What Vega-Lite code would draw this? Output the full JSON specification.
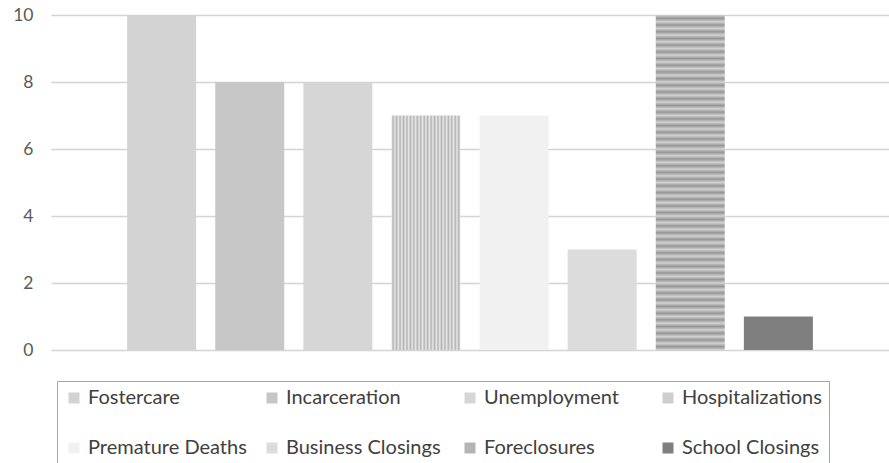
{
  "$schema": "https://vega.github.io/schema/vega-lite/v6.json",
  "autosize": {"type": "none"},
  "padding": {"left": 51, "top": 15, "right": 0, "bottom": 113},
  "width": 838,
  "height": 335,
  "background": "white",
  "config": {"view": {"stroke": null}},
  "data": {"values": [
    {"category": "Fostercare", "value": 10},
    {"category": "Incarceration", "value": 8},
    {"category": "Unemployment", "value": 8},
    {"category": "Hospitalizations", "value": 7},
    {"category": "Premature Deaths", "value": 7},
    {"category": "Business Closings", "value": 3},
    {"category": "Foreclosures", "value": 10},
    {"category": "School Closings", "value": 1}
  ]},
  "mark": {"type": "bar"},
  "encoding": {
    "x": {"field": "category", "type": "nominal", "sort": null, "axis": null,
      "scale": {"paddingInner": 0.2168, "paddingOuter": 0.864}},
    "y": {"field": "value", "type": "quantitative",
      "scale": {"domain": [0, 10], "nice": false},
      "axis": {"title": null, "values": [0, 2, 4, 6, 8, 10], "domain": false, "ticks": false,
        "grid": true, "gridColor": "#d4d4d4", "gridWidth": 1.5,
        "labelFont": "Lato", "labelFontSize": 17.5, "labelColor": "#595959", "labelPadding": 18}},
    "fill": {"field": "category", "type": "nominal", "sort": null,
      "condition": [
        {"test": "datum.category === 'Hospitalizations'",
          "value": {"gradient": "linear", "x1": 0, "y1": 0, "x2": 1, "y2": 0, "stops": [
            {"offset": 0, "color": "#e9e9e9"}, {"offset": 0.025, "color": "#b3b3b3"},
            {"offset": 0.05, "color": "#e9e9e9"}, {"offset": 0.075, "color": "#b3b3b3"},
            {"offset": 0.1, "color": "#e9e9e9"}, {"offset": 0.125, "color": "#b3b3b3"},
            {"offset": 0.15, "color": "#e9e9e9"}, {"offset": 0.175, "color": "#b3b3b3"},
            {"offset": 0.2, "color": "#e9e9e9"}, {"offset": 0.225, "color": "#b3b3b3"},
            {"offset": 0.25, "color": "#e9e9e9"}, {"offset": 0.275, "color": "#b3b3b3"},
            {"offset": 0.3, "color": "#e9e9e9"}, {"offset": 0.325, "color": "#b3b3b3"},
            {"offset": 0.35, "color": "#e9e9e9"}, {"offset": 0.375, "color": "#b3b3b3"},
            {"offset": 0.4, "color": "#e9e9e9"}, {"offset": 0.425, "color": "#b3b3b3"},
            {"offset": 0.45, "color": "#e9e9e9"}, {"offset": 0.475, "color": "#b3b3b3"},
            {"offset": 0.5, "color": "#e9e9e9"}, {"offset": 0.525, "color": "#b3b3b3"},
            {"offset": 0.55, "color": "#e9e9e9"}, {"offset": 0.575, "color": "#b3b3b3"},
            {"offset": 0.6, "color": "#e9e9e9"}, {"offset": 0.625, "color": "#b3b3b3"},
            {"offset": 0.65, "color": "#e9e9e9"}, {"offset": 0.675, "color": "#b3b3b3"},
            {"offset": 0.7, "color": "#e9e9e9"}, {"offset": 0.725, "color": "#b3b3b3"},
            {"offset": 0.75, "color": "#e9e9e9"}, {"offset": 0.775, "color": "#b3b3b3"},
            {"offset": 0.8, "color": "#e9e9e9"}, {"offset": 0.825, "color": "#b3b3b3"},
            {"offset": 0.85, "color": "#e9e9e9"}, {"offset": 0.875, "color": "#b3b3b3"},
            {"offset": 0.9, "color": "#e9e9e9"}, {"offset": 0.925, "color": "#b3b3b3"},
            {"offset": 0.95, "color": "#e9e9e9"}, {"offset": 0.975, "color": "#b3b3b3"},
            {"offset": 1, "color": "#e9e9e9"}
          ]}},
        {"test": "datum.category === 'Foreclosures'",
          "value": {"gradient": "linear", "x1": 0, "y1": 0, "x2": 0, "y2": 1, "stops": [
            {"offset": 0, "color": "#d2d2d2"}, {"offset": 0.01, "color": "#969696"}, {"offset": 0.02, "color": "#d2d2d2"}, {"offset": 0.03, "color": "#969696"}, {"offset": 0.04, "color": "#d2d2d2"},
            {"offset": 0.05, "color": "#969696"}, {"offset": 0.06, "color": "#d2d2d2"}, {"offset": 0.07, "color": "#969696"}, {"offset": 0.08, "color": "#d2d2d2"}, {"offset": 0.09, "color": "#969696"},
            {"offset": 0.1, "color": "#d2d2d2"}, {"offset": 0.11, "color": "#969696"}, {"offset": 0.12, "color": "#d2d2d2"}, {"offset": 0.13, "color": "#969696"}, {"offset": 0.14, "color": "#d2d2d2"},
            {"offset": 0.15, "color": "#969696"}, {"offset": 0.16, "color": "#d2d2d2"}, {"offset": 0.17, "color": "#969696"}, {"offset": 0.18, "color": "#d2d2d2"}, {"offset": 0.19, "color": "#969696"},
            {"offset": 0.2, "color": "#d2d2d2"}, {"offset": 0.21, "color": "#969696"}, {"offset": 0.22, "color": "#d2d2d2"}, {"offset": 0.23, "color": "#969696"}, {"offset": 0.24, "color": "#d2d2d2"},
            {"offset": 0.25, "color": "#969696"}, {"offset": 0.26, "color": "#d2d2d2"}, {"offset": 0.27, "color": "#969696"}, {"offset": 0.28, "color": "#d2d2d2"}, {"offset": 0.29, "color": "#969696"},
            {"offset": 0.3, "color": "#d2d2d2"}, {"offset": 0.31, "color": "#969696"}, {"offset": 0.32, "color": "#d2d2d2"}, {"offset": 0.33, "color": "#969696"}, {"offset": 0.34, "color": "#d2d2d2"},
            {"offset": 0.35, "color": "#969696"}, {"offset": 0.36, "color": "#d2d2d2"}, {"offset": 0.37, "color": "#969696"}, {"offset": 0.38, "color": "#d2d2d2"}, {"offset": 0.39, "color": "#969696"},
            {"offset": 0.4, "color": "#d2d2d2"}, {"offset": 0.41, "color": "#969696"}, {"offset": 0.42, "color": "#d2d2d2"}, {"offset": 0.43, "color": "#969696"}, {"offset": 0.44, "color": "#d2d2d2"},
            {"offset": 0.45, "color": "#969696"}, {"offset": 0.46, "color": "#d2d2d2"}, {"offset": 0.47, "color": "#969696"}, {"offset": 0.48, "color": "#d2d2d2"}, {"offset": 0.49, "color": "#969696"},
            {"offset": 0.5, "color": "#d2d2d2"}, {"offset": 0.51, "color": "#969696"}, {"offset": 0.52, "color": "#d2d2d2"}, {"offset": 0.53, "color": "#969696"}, {"offset": 0.54, "color": "#d2d2d2"},
            {"offset": 0.55, "color": "#969696"}, {"offset": 0.56, "color": "#d2d2d2"}, {"offset": 0.57, "color": "#969696"}, {"offset": 0.58, "color": "#d2d2d2"}, {"offset": 0.59, "color": "#969696"},
            {"offset": 0.6, "color": "#d2d2d2"}, {"offset": 0.61, "color": "#969696"}, {"offset": 0.62, "color": "#d2d2d2"}, {"offset": 0.63, "color": "#969696"}, {"offset": 0.64, "color": "#d2d2d2"},
            {"offset": 0.65, "color": "#969696"}, {"offset": 0.66, "color": "#d2d2d2"}, {"offset": 0.67, "color": "#969696"}, {"offset": 0.68, "color": "#d2d2d2"}, {"offset": 0.69, "color": "#969696"},
            {"offset": 0.7, "color": "#d2d2d2"}, {"offset": 0.71, "color": "#969696"}, {"offset": 0.72, "color": "#d2d2d2"}, {"offset": 0.73, "color": "#969696"}, {"offset": 0.74, "color": "#d2d2d2"},
            {"offset": 0.75, "color": "#969696"}, {"offset": 0.76, "color": "#d2d2d2"}, {"offset": 0.77, "color": "#969696"}, {"offset": 0.78, "color": "#d2d2d2"}, {"offset": 0.79, "color": "#969696"},
            {"offset": 0.8, "color": "#d2d2d2"}, {"offset": 0.81, "color": "#969696"}, {"offset": 0.82, "color": "#d2d2d2"}, {"offset": 0.83, "color": "#969696"}, {"offset": 0.84, "color": "#d2d2d2"},
            {"offset": 0.85, "color": "#969696"}, {"offset": 0.86, "color": "#d2d2d2"}, {"offset": 0.87, "color": "#969696"}, {"offset": 0.88, "color": "#d2d2d2"}, {"offset": 0.89, "color": "#969696"},
            {"offset": 0.9, "color": "#d2d2d2"}, {"offset": 0.91, "color": "#969696"}, {"offset": 0.92, "color": "#d2d2d2"}, {"offset": 0.93, "color": "#969696"}, {"offset": 0.94, "color": "#d2d2d2"},
            {"offset": 0.95, "color": "#969696"}, {"offset": 0.96, "color": "#d2d2d2"}, {"offset": 0.97, "color": "#969696"}, {"offset": 0.98, "color": "#d2d2d2"}, {"offset": 0.99, "color": "#969696"},
            {"offset": 1, "color": "#d2d2d2"}
          ]}}
      ],
      "scale": {
        "domain": ["Fostercare", "Incarceration", "Unemployment", "Hospitalizations", "Premature Deaths", "Business Closings", "Foreclosures", "School Closings"],
        "range": ["#d3d3d3", "#c7c7c7", "#d6d6d6", "#cecece", "#f1f1f1", "#dcdcdc", "#b4b4b4", "#7f7f7f"]},
      "legend": {
        "title": null, "orient": "none", "legendX": 6, "legendY": 366,
        "direction": "horizontal", "columns": 4, "gridAlign": "all",
        "strokeColor": "#8fa8d8", "fillColor": "white", "cornerRadius": 0,
        "padding": 7, "columnPadding": 15, "rowPadding": 30,
        "symbolType": "square", "symbolSize": 121, "symbolStrokeWidth": 0,
        "labelFont": "Lato", "labelFontSize": 20, "labelColor": "#404040", "labelOffset": 4, "labelLimit": 300
      }}
  }
}
